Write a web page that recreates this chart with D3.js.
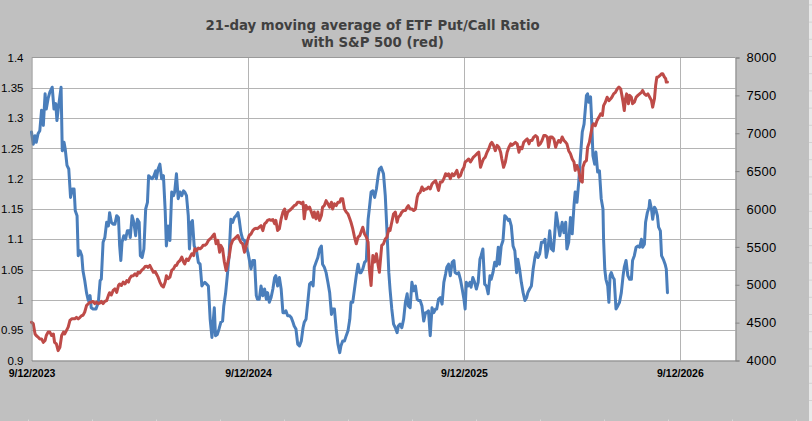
<!DOCTYPE html>
<html>
<head>
<meta charset="utf-8">
<script src="https://cdn.jsdelivr.net/npm/d3@7/dist/d3.min.js"></script>
<style>
  html, body { margin: 0; padding: 0; background: #c0c0c0; }
  svg { display: block; }
</style>
</head>
<body>
<svg id="chart" width="812" height="421"></svg>
<script>
// ---- data (days counted from 9/12/2023) ----
const startDate = new Date(Date.UTC(2023, 8, 12));

const ratioDays = [0,3,6,8,11,14,17,20,23,25,28,31,35,38,41,43,46,50,52,55,57,60,63,66,69,72,74,77,79,82,85,87,90,93,96,99,101,104,109,113,116,118,121,124,127,130,132,135,138,141,144,147,149,151,153,156,159,162,165,167,170,173,176,179,182,184,187,190,193,196,198,201,204,207,210,211,214,217,220,223,226,228,231,234,237,240,242,245,248,251,254,257,259,262,265,267,270,272,275,279,282,285,288,290,293,296,299,302,305,309,311,314,317,320,323,325,328,331,334,337,340,343,346,349,351,354,357,360,363,366,368,371,374,377,380,382,385,388,391,394,397,399,402,405,408,411,413,416,419,422,425,428,430,433,436,439,442,444,447,450,453,456,459,461,464,467,470,473,476,478,481,484,487,490,492,495,498,501,504,507,509,512,515,518,521,523,526,529,532,535,538,540,543,546,549,552,555,557,560,563,566,569,571,574,577,580,583,586,588,591,595,598,601,604,606,609,612,615,618,620,623,626,629,632,635,637,640,643,646,649,652,654,657,660,663,666,668,671,674,677,680,683,685,688,691,694,697,700,702,705,708,711,714,716,719,722,725,728,731,733,735,738,741,743,746,749,752,755,758,760,763,766,769,772,775,777,780,783,786,789,791,794,797,800,803,806,808,811,814,817,820,822,825,828,831,834,837,839,842,845,848,851,853,856,859,862,865,868,870,873,876,879,882,884,887,890,893,897,900,903,905,908,911,914,917,919,922,925,928,931,934,936,938,940,942,945,947,949,952,954,957,960,963,966,967,969,971,974,976,978,980,983,985,988,991,994,997,1000,1002,1005,1008,1011,1014,1016,1019,1022,1025,1028,1031,1033,1036,1038,1041,1044,1045,1048,1050,1053,1055,1058,1060,1063,1065,1068,1071,1073,1075];

const ratioValues = [1.277,1.257,1.271,1.260,1.274,1.279,1.313,1.288,1.340,1.315,1.332,1.343,1.351,1.315,1.324,1.296,1.321,1.351,1.246,1.260,1.249,1.222,1.216,1.169,1.183,1.183,1.147,1.139,1.073,1.081,1.073,1.048,1.032,1.012,0.999,1.007,0.987,0.985,0.985,0.996,1.032,1.034,1.095,1.103,1.128,1.122,1.144,1.128,1.125,1.125,1.139,1.136,1.089,1.065,1.095,1.106,1.100,1.114,1.114,1.103,1.139,1.128,1.106,1.133,1.128,1.073,1.070,1.084,1.150,1.161,1.205,1.202,1.200,1.205,1.213,1.200,1.216,1.224,1.200,1.205,1.147,1.089,1.122,1.098,1.178,1.172,1.178,1.208,1.167,1.178,1.172,1.180,1.178,1.172,1.139,1.084,1.128,1.131,1.089,1.081,1.062,1.059,1.023,1.026,1.029,1.026,1.023,0.968,0.938,0.987,0.941,0.943,0.952,0.963,0.965,0.990,1.010,1.040,1.073,1.133,1.128,1.136,1.139,1.144,1.133,1.111,1.100,1.098,1.087,1.078,1.067,1.051,1.065,1.065,1.007,1.001,1.001,1.023,1.007,1.018,1.001,1.012,0.996,1.004,1.018,1.037,1.040,1.023,1.037,1.018,0.979,0.979,0.982,0.974,0.974,0.971,0.963,0.957,0.952,0.927,0.924,0.932,0.954,0.963,0.968,0.996,1.026,1.029,1.023,1.054,1.062,1.070,1.084,1.089,1.059,1.054,1.045,1.029,1.012,0.976,0.985,0.985,0.952,0.927,0.913,0.924,0.932,0.932,0.941,0.949,0.968,0.996,0.996,1.018,1.040,1.059,1.045,1.045,1.051,1.062,1.065,1.133,1.150,1.178,1.180,1.169,1.183,1.205,1.216,1.219,1.208,1.172,1.111,1.045,1.018,0.985,0.960,0.954,0.946,0.957,0.960,0.954,0.968,0.996,1.010,0.990,0.987,1.029,1.015,1.023,1.001,0.999,0.999,0.990,0.965,0.979,0.979,0.982,0.941,0.987,0.979,0.985,0.985,1.001,1.004,0.993,1.029,1.043,1.054,1.059,1.040,1.062,1.065,1.045,1.043,1.045,1.034,1.018,1.001,0.985,1.029,1.023,1.029,1.021,1.037,1.029,1.018,1.029,1.067,1.073,1.084,1.026,1.023,1.010,1.040,1.034,1.045,1.062,1.056,1.087,1.059,1.089,1.098,1.139,1.136,1.131,1.133,1.122,1.089,1.081,1.045,1.067,1.051,1.029,1.012,0.999,1.004,1.012,1.018,1.023,1.051,1.070,1.078,1.070,1.076,1.095,1.095,1.100,1.070,1.084,1.114,1.084,1.081,1.103,1.144,1.125,1.106,1.128,1.111,1.128,1.084,1.095,1.136,1.109,1.156,1.178,1.161,1.194,1.238,1.277,1.290,1.313,1.337,1.340,1.326,1.335,1.293,1.238,1.224,1.244,1.211,1.213,1.167,1.150,1.100,1.051,1.034,1.023,0.996,1.040,1.045,1.037,1.034,0.985,0.990,0.996,1.012,1.040,1.054,1.065,1.040,1.034,1.034,1.065,1.073,1.087,1.089,1.087,1.100,1.087,1.092,1.128,1.144,1.153,1.164,1.150,1.133,1.153,1.150,1.139,1.120,1.114,1.073,1.067,1.059,1.051,1.012];

const spxDays = [0,3,6,8,11,14,17,20,23,25,28,31,34,37,39,42,45,48,51,54,56,59,62,65,68,70,73,76,79,82,85,87,90,93,96,99,101,104,107,110,113,116,118,121,124,127,130,132,135,138,141,144,147,149,152,155,158,161,164,166,169,172,175,178,180,183,186,189,192,195,197,200,203,206,209,211,214,217,220,223,226,228,231,234,237,240,243,245,248,251,254,257,259,262,265,268,271,274,276,279,282,285,288,290,293,296,299,302,305,307,309,312,315,318,320,323,326,329,332,334,337,340,343,346,349,351,354,357,360,363,366,368,371,374,377,380,382,385,388,391,394,397,399,402,405,408,411,413,416,419,422,425,428,430,433,436,439,442,444,447,450,453,456,459,461,464,467,470,473,476,478,481,484,487,490,492,495,498,501,504,507,509,512,515,518,521,523,526,529,532,535,538,540,543,546,549,552,555,557,560,563,566,569,571,574,577,580,583,586,588,592,595,598,601,604,606,609,612,615,618,620,623,626,629,632,635,637,640,643,646,649,652,654,657,660,663,666,668,671,674,677,680,683,685,688,691,694,697,700,702,705,708,711,714,716,719,722,725,728,731,733,736,739,742,745,747,750,753,756,759,762,764,767,770,773,776,778,781,784,787,790,793,795,798,801,804,807,810,812,815,818,821,824,826,829,832,835,838,841,843,846,849,852,855,857,860,863,866,869,872,874,877,880,883,886,888,891,894,897,900,903,905,908,911,914,917,919,922,925,928,931,932,935,938,940,943,945,948,950,953,956,959,962,965,967,970,973,976,979,981,984,987,990,993,996,998,1000,1002,1004,1006,1009,1011,1014,1016,1019,1022,1025,1028,1031,1033,1036,1039,1042,1045,1048,1050,1053,1055,1057,1059,1062,1065,1067,1070,1072,1073,1075];

const spxValues = [4505,4485,4350,4330,4310,4285,4285,4240,4265,4330,4375,4375,4330,4350,4240,4220,4130,4175,4330,4375,4350,4395,4440,4530,4550,4550,4550,4570,4550,4570,4595,4595,4640,4725,4750,4770,4770,4780,4750,4770,4750,4760,4780,4750,4780,4790,4860,4895,4865,4925,4945,4900,4990,5010,4990,5035,5010,5055,5035,5085,5115,5120,5145,5120,5165,5155,5190,5210,5240,5245,5230,5255,5210,5165,5175,5145,5100,5035,4990,4970,5035,5120,5080,5100,5190,5210,5255,5255,5300,5320,5365,5300,5275,5340,5320,5365,5410,5385,5475,5450,5485,5475,5495,5520,5520,5540,5585,5605,5630,5650,5670,5540,5585,5430,5520,5475,5300,5190,5300,5365,5520,5585,5605,5630,5650,5605,5560,5540,5430,5520,5605,5650,5670,5715,5740,5745,5740,5760,5780,5715,5805,5825,5850,5860,5850,5860,5805,5850,5715,5740,5870,5960,6000,5870,5960,5980,6000,6025,6045,6055,6090,6090,6070,6090,5870,6045,6000,6025,5960,5890,5960,5870,5960,5850,5915,6025,6045,6110,6070,6025,6090,6000,6070,6045,6090,6090,6135,6135,6000,5960,5935,5870,5825,5740,5630,5540,5630,5650,5695,5760,5670,5630,5560,5210,4990,5385,5300,5410,5255,5165,5520,5540,5605,5630,5740,5715,5825,5935,5960,5825,5890,5915,5960,5980,5980,6025,6045,6000,6000,5980,6000,6155,6200,6220,6290,6245,6265,6265,6290,6265,6330,6355,6375,6330,6245,6355,6355,6400,6465,6440,6465,6400,6465,6440,6465,6510,6420,6440,6510,6550,6620,6640,6660,6620,6660,6685,6705,6730,6750,6550,6620,6660,6685,6750,6795,6860,6880,6840,6770,6840,6815,6750,6660,6550,6620,6750,6815,6860,6840,6860,6880,6860,6750,6815,6795,6880,6905,6925,6860,6905,6905,6950,6970,6950,6840,6860,6905,6970,6970,6950,6815,6950,6950,6925,6815,6860,6905,6880,6950,6905,6880,6860,6770,6730,6660,6620,6510,6575,6510,6375,6355,6550,6620,6640,6815,6880,6970,7100,7125,7100,7170,7210,7255,7235,7365,7410,7475,7430,7455,7475,7520,7540,7585,7610,7585,7500,7410,7300,7455,7520,7390,7500,7475,7390,7410,7475,7500,7520,7540,7565,7520,7500,7520,7475,7430,7345,7455,7630,7740,7740,7760,7785,7785,7740,7720,7675,7675];

const leftTicks = [0.9, 0.95, 1, 1.05, 1.1, 1.15, 1.2, 1.25, 1.3, 1.35, 1.4];
const rightTicks = [4000, 4500, 5000, 5500, 6000, 6500, 7000, 7500, 8000];
const dateTicks = ['2023-09-12', '2024-09-12', '2025-09-12', '2026-09-12'];
const titleLines = ['21-day moving average of ETF Put/Call Ratio', 'with S&P 500 (red)'];

// ---- layout ----
const W = 812, H = 421;
const plot = { left: 31.5, right: 735.5, top: 57.5, bottom: 360.5 };
const blue = '#4a7ebb', red = '#be4b48';

const svg = d3.select('#chart');

// light spreadsheet strip beyond the chart area, with faint cell borders
svg.append('rect').attr('x', 809).attr('y', 0).attr('width', W - 809).attr('height', H).attr('fill', '#e9e9e9');
svg.append('rect').attr('x', 0).attr('y', 0).attr('width', 809).attr('height', H).attr('fill', '#c0c0c0');
svg.append('g').selectAll('line')
    .data(d3.range(24))
    .join('line')
    .attr('x1', 809).attr('x2', W)
    .attr('y1', i => 400.5 - i * 17.2).attr('y2', i => 400.5 - i * 17.2)
    .attr('stroke', '#d2d2d2');
svg.append('g').selectAll('line')
    .data(d3.range(13))
    .join('line')
    .attr('x1', i => 28.5 + i * 64).attr('x2', i => 28.5 + i * 64)
    .attr('y1', 419.5).attr('y2', H)
    .attr('stroke', '#d8d8d8');

const toDate = d => d3.utcDay.offset(startDate, d);

const x = d3.scaleUtc()
    .domain([startDate, new Date(Date.UTC(2026, 11, 15))])
    .range([plot.left, plot.right]);
const yL = d3.scaleLinear().domain([0.9, 1.4]).range([plot.bottom, plot.top]);
const yR = d3.scaleLinear().domain([4000, 8000]).range([plot.bottom, plot.top]);

// plot area
svg.append('rect')
    .attr('x', plot.left).attr('y', plot.top)
    .attr('width', plot.right - plot.left).attr('height', plot.bottom - plot.top)
    .attr('fill', '#fff');

// horizontal gridlines
svg.append('g')
    .selectAll('line')
    .data(leftTicks.slice(1, -1))
    .join('line')
    .attr('x1', plot.left).attr('x2', plot.right)
    .attr('y1', d => Math.round(yL(d)) + 0.5).attr('y2', d => Math.round(yL(d)) + 0.5)
    .attr('stroke', '#b4b4b4');

// vertical gridlines
svg.append('g')
    .selectAll('line')
    .data(dateTicks.slice(1))
    .join('line')
    .attr('x1', d => Math.round(x(new Date(d))) + 0.5).attr('x2', d => Math.round(x(new Date(d))) + 0.5)
    .attr('y1', plot.top).attr('y2', plot.bottom)
    .attr('stroke', '#b4b4b4');

// frame
svg.append('line')
    .attr('x1', plot.left).attr('x2', plot.right)
    .attr('y1', plot.top).attr('y2', plot.top)
    .attr('stroke', '#9a9a9a');

// series
const ratioLine = d3.line()
    .x((d, i) => x(toDate(ratioDays[i])))
    .y(d => yL(d));
const spxLine = d3.line()
    .x((d, i) => x(toDate(spxDays[i])))
    .y(d => yR(d));

svg.append('path')
    .datum(ratioValues)
    .attr('d', ratioLine)
    .attr('fill', 'none')
    .attr('stroke', blue)
    .attr('stroke-width', 3)
    .attr('stroke-linejoin', 'round')
    .attr('stroke-linecap', 'round');

svg.append('path')
    .datum(spxValues)
    .attr('d', spxLine)
    .attr('fill', 'none')
    .attr('stroke', red)
    .attr('stroke-width', 3)
    .attr('stroke-linejoin', 'round')
    .attr('stroke-linecap', 'round');

// axes
const fmtDate = d => `${d.getUTCMonth() + 1}/${d.getUTCDate()}/${d.getUTCFullYear()}`;

const gLeft = svg.append('g')
    .attr('transform', `translate(${plot.left},0)`)
    .call(d3.axisLeft(yL).tickValues(leftTicks).tickSize(0).tickPadding(8).tickFormat(d3.format('')));
gLeft.select('.domain').attr('stroke', '#868686');
gLeft.selectAll('text')
    .attr('font-family', '"Liberation Sans", Arial, sans-serif')
    .attr('font-size', 11.5)
    .attr('fill', '#000');

const gRight = svg.append('g')
    .attr('transform', `translate(${plot.right},0)`)
    .call(d3.axisRight(yR).tickValues(rightTicks).tickSize(4).tickPadding(7).tickFormat(d3.format('d')));
gRight.select('.domain').attr('stroke', '#868686');
gRight.selectAll('.tick line').attr('stroke', '#868686');
gRight.selectAll('text')
    .attr('font-family', '"Liberation Sans", Arial, sans-serif')
    .attr('font-size', 13)
    .attr('letter-spacing', 0.3)
    .attr('fill', '#000');

const gBottom = svg.append('g')
    .attr('transform', `translate(0,${plot.bottom})`)
    .call(d3.axisBottom(x).tickValues(dateTicks.map(d => new Date(d))).tickSize(0).tickPadding(9.5).tickFormat(fmtDate));
gBottom.select('.domain').attr('stroke', '#868686');
gBottom.selectAll('text')
    .attr('font-family', '"Liberation Sans", Arial, sans-serif')
    .attr('font-size', 10.5)
    .attr('font-weight', 'bold')
    .attr('fill', '#000');

// title
svg.append('g')
    .selectAll('text')
    .data(titleLines)
    .join('text')
    .attr('x', 372.5)
    .attr('y', (d, i) => 30 + i * 16.5)
    .attr('text-anchor', 'middle')
    .attr('font-family', '"DejaVu Sans", Verdana, sans-serif')
    .attr('font-weight', 'bold')
    .attr('font-size', 13.3)
    .attr('fill', '#404040')
    .text(d => d);
</script>
</body>
</html>
